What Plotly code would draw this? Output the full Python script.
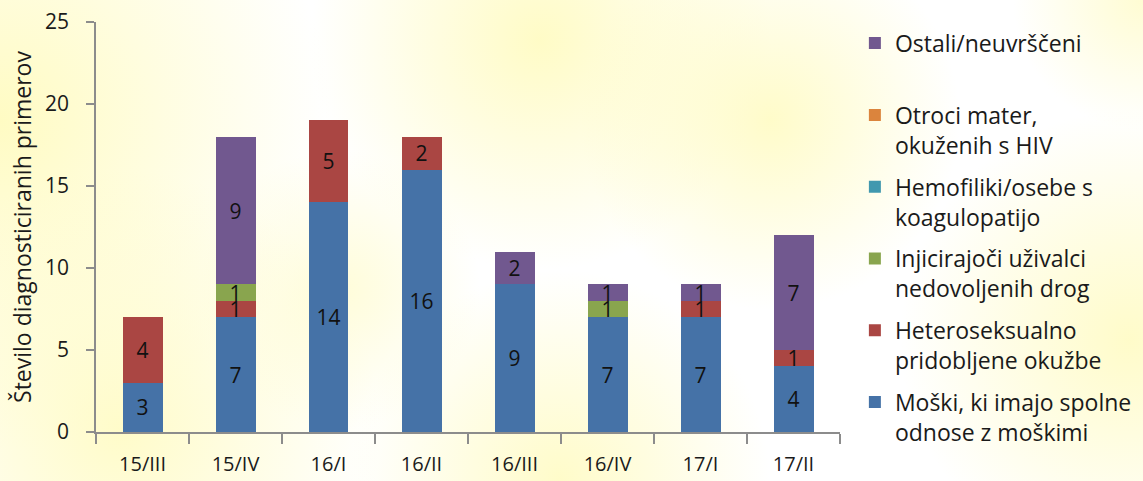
import base64
import plotly.graph_objects as go

# Quarters and counts of newly diagnosed cases by transmission group
quarters = ["15/III", "15/IV", "16/I", "16/II", "16/III", "16/IV", "17/I", "17/II"]

moski = [3, 7, 14, 16, 9, 7, 7, 4]
hetero = [4, 1, 5, 2, 0, 0, 1, 1]
injicirajoci = [0, 1, 0, 0, 0, 1, 0, 0]
hemofiliki = [0, 0, 0, 0, 0, 0, 0, 0]
otroci = [0, 0, 0, 0, 0, 0, 0, 0]
ostali = [0, 9, 0, 0, 2, 1, 1, 7]

series = [
    ("Moški, ki imajo spolne<br>odnose z moškimi", moski, "#4572A7"),
    ("Heteroseksualno<br>pridobljene okužbe", hetero, "#AA4643"),
    ("Injicirajoči uživalci<br>nedovoljenih drog", injicirajoci, "#89A54E"),
    ("Hemofiliki/osebe s<br>koagulopatijo", hemofiliki, "#4198AF"),
    ("Otroci mater,<br>okuženih s HIV", otroci, "#DB843D"),
    ("Ostali/neuvrščeni<br> ", ostali, "#71588F"),
]

FONT = "'Open Sans', 'Noto Sans', sans-serif"
TXT = "#1a1a1a"

fig = go.Figure()
n = len(series)
for i, (name, vals, color) in enumerate(series):
    fig.add_trace(go.Bar(
        x=quarters,
        y=vals,
        name=name,
        legendgroup=f"g{i}",
        legendrank=n - i,
        marker=dict(color=color, line=dict(width=0)),
        text=[str(v) if v else "" for v in vals],
        textposition="inside",
        insidetextanchor="middle",
        textangle=0,
        constraintext="none",
        textfont=dict(family=FONT, size=21, color="#111111"),
        width=0.43,
    ))

# Soft yellow background wash drawn as an SVG behind the whole figure
W, H = 1143, 481
spots = [
    (0, 120, 330, 0.95),
    (540, 40, 230, 0.9),
    (770, 120, 190, 0.85),
    (120, 430, 260, 0.85),
    (340, 290, 140, 0.6),
    (560, 480, 210, 0.85),
    (1130, 340, 230, 0.85),
    (1143, 0, 130, 0.7),
]
defs = []
layers = []
for k, (cx, cy, r, a) in enumerate(spots):
    defs.append(
        f'<radialGradient id="s{k}" cx="{cx}" cy="{cy}" r="{r}" gradientUnits="userSpaceOnUse">'
        f'<stop offset="0" stop-color="#FFFBC0" stop-opacity="{a}"/>'
        f'<stop offset="1" stop-color="#FFFBC0" stop-opacity="0"/></radialGradient>'
    )
    layers.append(f'<rect width="{W}" height="{H}" fill="url(#s{k})"/>')
svg = (
    f'<svg xmlns="http://www.w3.org/2000/svg" width="{W}" height="{H}" viewBox="0 0 {W} {H}">'
    f'<defs>{"".join(defs)}</defs><rect width="{W}" height="{H}" fill="#FFFFFF"/>'
    f'{"".join(layers)}</svg>'
)
bg_src = "data:image/svg+xml;base64," + base64.b64encode(svg.encode()).decode()

ML, MR, MT, MB = 96, 303, 22, 49
pw = W - ML - MR
ph = H - MT - MB

fig.update_layout(
    width=W,
    height=H,
    margin=dict(l=ML, r=MR, t=MT, b=MB, autoexpand=False),
    barmode="stack",
    paper_bgcolor="#FFFFFF",
    plot_bgcolor="rgba(0,0,0,0)",
    font=dict(family=FONT, size=20, color=TXT),
    showlegend=True,
    legend=dict(
        traceorder="grouped",
        tracegroupgap=9,
        valign="top",
        x=1.02,
        xanchor="left",
        yref="container",
        y=0.955,
        yanchor="top",
        maxheight=478,
        font=dict(family=FONT, size=23, color=TXT),
        bgcolor="rgba(0,0,0,0)",
        itemwidth=30,
    ),
    images=[dict(
        source=bg_src,
        xref="paper", yref="paper",
        x=-ML / pw, y=1 + MT / ph,
        sizex=W / pw, sizey=H / ph,
        sizing="stretch",
        xanchor="left", yanchor="top",
        layer="below",
    )],
)

fig.update_xaxes(
    type="category",
    range=[-0.5, 7.5],
    showline=True,
    linecolor="#8c8c8c",
    linewidth=1.5,
    ticks="outside",
    tickson="boundaries",
    ticklen=10,
    tickcolor="#8c8c8c",
    tickwidth=1.5,
    showgrid=False,
    tickfont=dict(family=FONT, size=20, color=TXT),
    ticklabelstandoff=13,
)
fig.update_yaxes(
    range=[0, 25],
    tickvals=[0, 5, 10, 15, 20, 25],
    showline=True,
    linecolor="#8c8c8c",
    linewidth=1.5,
    ticks="outside",
    ticklen=8,
    tickcolor="#8c8c8c",
    tickwidth=1.5,
    showgrid=False,
    zeroline=False,
    tickfont=dict(family=FONT, size=21, color=TXT),
    ticklabelstandoff=13,
    title=dict(text="Število diagnosticiranih primerov", standoff=7,
               font=dict(family=FONT, size=23, color=TXT)),
)

fig.write_html("out.html")
